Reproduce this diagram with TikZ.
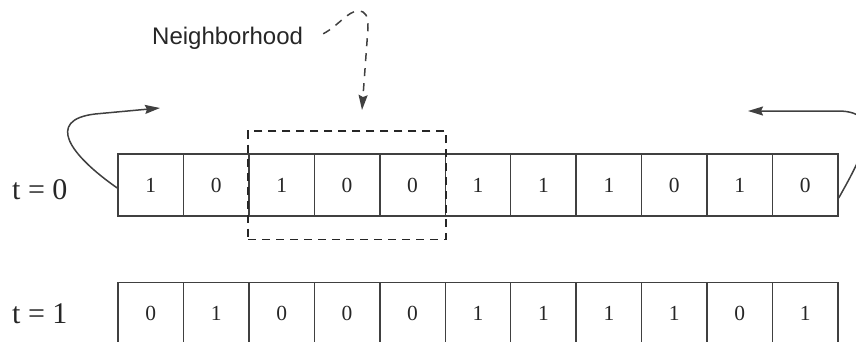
\documentclass[tikz,border=0pt]{standalone}
\usepackage{fontspec}
\setmainfont{Liberation Serif}
\newfontfamily\labelsans{Liberation Sans}
\usetikzlibrary{arrows.meta,fit}

\tikzset{
  cellbox/.style={draw=black!75, line width=1.5pt, minimum width=65.45pt,
    minimum height=62pt, inner sep=0pt, font=\fontsize{21.5}{23}\selectfont, text=black!85},
  steplabel/.style={anchor=base west, inner sep=0pt, font=\fontsize{30}{32}\selectfont, text=black!85},
  wraparrow/.style={draw=black!75, line width=1.5pt, -{Stealth[length=15pt,width=9pt,inset=2pt]}},
  nbhdbox/.style={draw=black!85, line width=1.5pt, dash pattern=on 8pt off 6pt},
  nbhdarrow/.style={draw=black!75, line width=1.5pt, dash pattern=on 8pt off 7pt,
    -{Stealth[length=15pt,width=9pt,inset=2pt]}}
}

\begin{document}
\begin{tikzpicture}[x=1pt,y=-1pt]
  \clip (0,0) rectangle (856,341);

  % row at t = 0
  \foreach \v [count=\i] in {1,0,1,0,0,1,1,1,0,1,0}
    \node[cellbox] (t0c\i) at ({118+(\i-0.5)*65.45},185) {\v};
  % row at t = 1
  \foreach \v [count=\i] in {0,1,0,0,0,1,1,1,1,0,1}
    \node[cellbox] (t1c\i) at ({118+(\i-0.5)*65.45},313.5) {\v};

  % time step labels
  \node[steplabel] (lab0) at (12,199) {t = 0};
  \node[steplabel] (lab1) at (12,323) {t = 1};

  % neighborhood window around cells 3--5
  \node[nbhdbox, fit=(t0c3)(t0c5), inner xsep=0pt, inner ysep=22.5pt] (nbhd) {};
  \node[anchor=base west, inner sep=0pt, font=\labelsans\fontsize{24}{26}\selectfont, text=black!85]
    (nlabel) at (152,44) {Neighborhood};
  \coordinate (ntip) at (362,110);
  \draw[nbhdarrow] ([xshift=20pt,yshift=4pt]nlabel.east) .. controls (338,26) and (348,11) .. (358,11)
    .. controls (366,11) and (368,16) .. (368,28) -- (ntip);

  % periodic boundary: wrap-around arrows
  \coordinate (ltip) at (160,108);
  \coordinate (rtip) at (748,111);
  \draw[wraparrow] ([yshift=-3pt]t0c1.west) .. controls (70,155) and (45,120) .. (95,114) -- (ltip);
  \draw[wraparrow] ([yshift=-13pt]t0c11.east) .. controls (860,160) and (888,111) .. (838,111) -- (rtip);
\end{tikzpicture}
\end{document}
